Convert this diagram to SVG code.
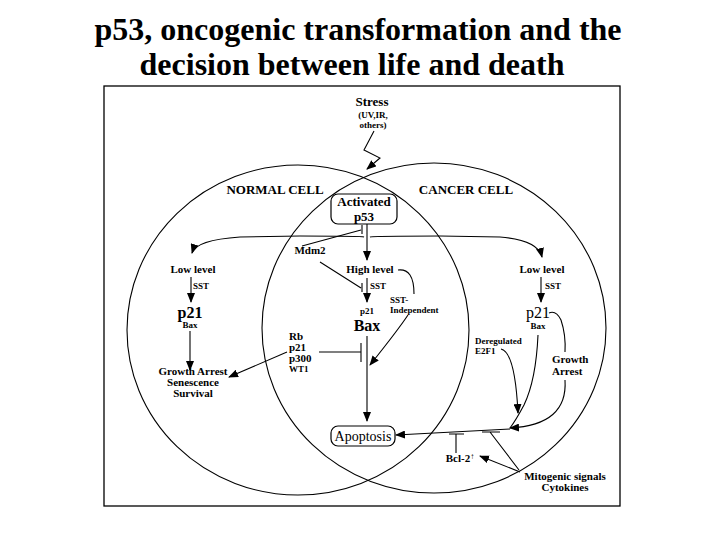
<svg xmlns="http://www.w3.org/2000/svg" width="720" height="540" viewBox="0 0 720 540">
<defs>
<marker id="arr" markerUnits="userSpaceOnUse" markerWidth="10" markerHeight="8" refX="9" refY="4" orient="auto">
<path d="M0,0 L10,4 L0,8 Z" fill="#000"/>
</marker>
<style>
text{font-family:"Liberation Serif","Times New Roman",serif;font-weight:bold;fill:#000;text-anchor:middle}
.t{font-size:32px}
.m{font-size:11px}
.s{font-size:9px}
.l{font-size:16px}
.h{font-size:13px}
.ln{fill:none;stroke:#000;stroke-width:1.1}
.a{marker-end:url(#arr)}
.box{fill:#fff;stroke:#000;stroke-width:1.2}
.left{text-anchor:start}
</style>
</defs>
<rect width="720" height="540" fill="#fff"/>
<text class="t" x="358" y="40">p53, oncogenic transformation and the</text>
<text class="t" x="352" y="75">decision between life and death</text>
<rect x="104" y="86" width="516" height="420" fill="none" stroke="#000" stroke-width="1.3"/>
<g id="cells">
<ellipse cx="298" cy="330" rx="171" ry="165" class="ln"/>
<ellipse cx="434" cy="328" rx="172" ry="165" class="ln"/>
<text class="h" x="275" y="194">NORMAL CELL</text>
<text class="h" x="466" y="194">CANCER CELL</text>
</g>
<g id="connectors">
<path class="ln a" d="M374,131 L364,150 L380,158 L367,169"/>
<path class="ln a" d="M367,224 L367,260"/>
<path class="ln a" d="M364,237 Q362,236 300,236 L240,237 Q196,240 192,253"/>
<path class="ln a" d="M370,237 Q372,236 440,236 L500,237 Q538,240 542,257"/>
<path class="ln" d="M302,246 L361,230 M362,225 L362,234"/>
<path class="ln" d="M320,262 L361,288 M362,283 L362,292"/>
<path class="ln a" d="M367,278 L367,302"/>
<path class="ln a" d="M367,336 L367,421"/>
<path class="ln" d="M319,352 L361,352 M361,343 L361,362"/>
<path class="ln a" d="M287,352 L229,377"/>
<path class="ln" d="M398,270 Q414,268 414,294"/>
<path class="ln a" d="M408,315 Q398,330 370,365"/>
<path class="ln a" d="M191,277 L191,302"/>
<path class="ln a" d="M190,331 L190,370"/>
<path class="ln a" d="M541,277 L541,302"/>
<path class="ln" d="M549,313 Q556,310 561,320 Q566,335 565,352"/>
<path class="ln a" d="M565,380 Q568,425 510,428"/>
<path class="ln" d="M538,335 Q536,380 524,405 Q516,420 510,428"/>
<path class="ln a" d="M501,349 Q515,352 518,413"/>
<path class="ln a" d="M510,429 L396,435"/>
<path class="ln" d="M449,434 L464,434 M456,434 L456,453"/>
<path class="ln" d="M482,432 L500,432 M490,432 L519,470"/>
<path class="ln a" d="M520,472 L480,456"/>
</g>
<g id="stress">
<text class="h" x="372" y="106">Stress</text>
<text class="s" x="373" y="118">(UV,IR,</text>
<text class="s" x="373" y="128">others)</text>
</g>
<g id="p53">
<rect class="box" x="331" y="194" width="66" height="30" rx="7"/>
<text class="h" x="364" y="206">Activated</text>
<text class="h" x="364" y="221">p53</text>
</g>
<g id="mdm2"><text class="m" x="310" y="254">Mdm2</text></g>
<g id="high"><text class="m" x="370" y="273">High level</text><text class="s left" x="370" y="289">SST</text></g>
<g id="bax"><text class="s" x="367" y="314">p21</text><text class="l" x="367" y="331">Bax</text></g>
<g id="sstind"><text class="s left" x="390" y="303">SST-</text><text class="s left" x="390" y="313">Independent</text></g>
<g id="rb"><text class="m left" x="289" y="340">Rb</text><text class="m left" x="289" y="351">p21</text><text class="m left" x="289" y="362">p300</text><text class="s left" x="289" y="372">WT1</text></g>
<g id="lowL"><text class="m" x="193" y="273">Low level</text><text class="s left" x="193" y="289">SST</text></g>
<g id="p21L"><text class="l" x="190" y="318">p21</text><text class="s" x="190" y="328">Bax</text></g>
<g id="growthL"><text class="m" x="193" y="375">Growth Arrest</text><text class="m" x="193" y="386">Senescence</text><text class="m" x="193" y="397">Survival</text></g>
<g id="lowR"><text class="m" x="542" y="273">Low level</text><text class="s left" x="545" y="289">SST</text></g>
<g id="p21R"><text class="l" x="538" y="318" style="font-weight:normal">p21</text><text class="s" x="538" y="329">Bax</text></g>
<g id="e2f1"><text class="s left" x="475" y="344">Deregulated</text><text class="s left" x="475" y="354">E2F1</text></g>
<g id="growthR"><text class="m left" x="552" y="363">Growth</text><text class="m left" x="552" y="375">Arrest</text></g>
<g id="apop">
<rect class="box" x="331" y="426" width="64" height="20" rx="7"/>
<text class="h" x="363" y="441" style="font-weight:normal;font-size:14px">Apoptosis</text>
</g>
<g id="bcl2"><text class="m" x="460" y="462">Bcl-2<tspan font-size="8px" dy="-3">↑</tspan></text></g>
<g id="mito"><text class="m" x="565" y="480">Mitogenic signals</text><text class="m" x="565" y="491">Cytokines</text></g>
</svg>
